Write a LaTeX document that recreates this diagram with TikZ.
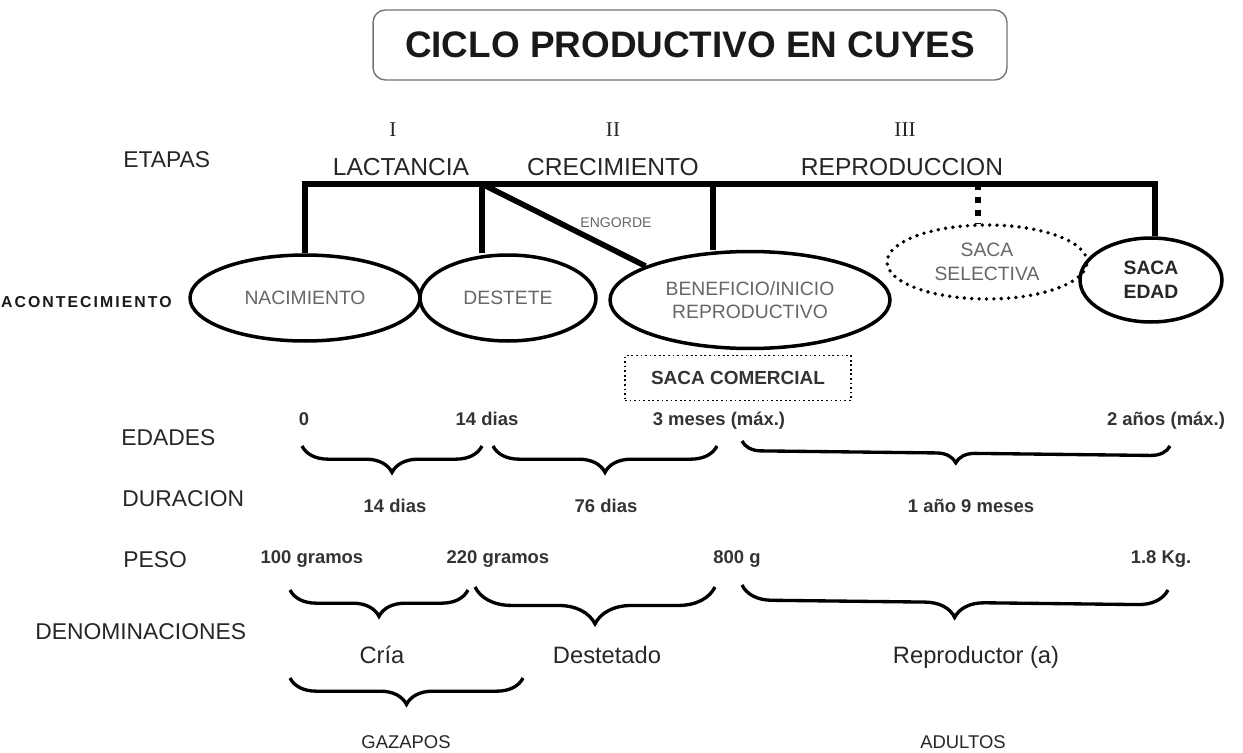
\documentclass[tikz,border=0pt]{standalone}
\usepackage{fontspec}
\setmainfont{Liberation Sans}
\newfontfamily\numfont{Liberation Serif}
\usetikzlibrary{positioning}
\usetikzlibrary{shapes.geometric}
\usetikzlibrary{decorations.pathreplacing}

\begin{document}
\begin{tikzpicture}
[
x=0.02cm, y=-0.02cm,
rowname/.style={anchor=west, inner sep=0pt, text=black!85, font=\fontsize{13}{15}\selectfont},
stage/.style={text=black!85, font=\fontsize{14}{16}\selectfont},
numeral/.style={text=black!85, font=\fontsize{12}{14}\selectfont\numfont},
event/.style={ellipse, draw, line width=2pt, inner sep=0pt, align=center, text=black!60, font=\fontsize{11}{13.5}\selectfont},
amount/.style={text height=8pt, text depth=2.3pt, text=black!80, font=\fontsize{10.5}{12}\selectfont\bfseries},
denom/.style={text height=10pt, text depth=3pt, text=black!85, font=\fontsize{13.5}{16}\selectfont},
bigname/.style={text=black!85, font=\fontsize{10.5}{12}\selectfont},
bar/.style={line width=3.2pt},
curly/.style={decorate, decoration={brace, mirror, amplitude=#1}, line width=1.9pt},
]

\useasboundingbox (0,0) rectangle (1243,753);

\node (title) [draw=black!55, line width=0.8pt, rounded corners=7pt, minimum width=12.68cm, minimum height=1.4cm, text=black!90, font=\fontsize{21}{24}\selectfont\bfseries] at (690,45) {CICLO PRODUCTIVO EN CUYES};

\node (etapas) [rowname] at (123,160) {ETAPAS};
\node (acontecimiento) [anchor=east, inner sep=0pt, text=black!90, font=\fontsize{9}{10}\selectfont\bfseries\addfontfeature{LetterSpace=13}] at (172,302) {ACONTECIMIENTO};
\node (edades) [rowname] at (121,438) {EDADES};
\node (duracion) [rowname] at (122,499) {DURACION};
\node (peso) [rowname] at (123,560) {PESO};
\node (denominaciones) [rowname] at (35,632) {DENOMINACIONES};

\foreach \n/\x/\t in {1/393/I, 2/613/II, 3/905/III}
\node (num-\n) [numeral] at (\x,130) {\t};
\foreach \n/\x/\t in {1/401/LACTANCIA, 2/613/CRECIMIENTO, 3/902/REPRODUCCION}
\node (stage-\n) [stage] at (\x,167) {\t};

\node (nac) [event, minimum width=4.6cm, minimum height=1.72cm] at (305,298) {NACIMIENTO};
\node (des) [event, minimum width=3.52cm, minimum height=1.72cm] at (508,298) {DESTETE};
\node (ben) [event, minimum width=5.6cm, minimum height=1.94cm] at (750,300) {BENEFICIO/INICIO\\REPRODUCTIVO};
\node (sel) [event, line width=2.2pt, line cap=round, dash pattern=on 0pt off 4.2pt, minimum width=4cm, minimum height=1.48cm] at (987,262) {SACA\\SELECTIVA};
\node (sacaedad) [event, minimum width=2.84cm, minimum height=1.68cm, text=black!85, font=\fontsize{11}{13.5}\selectfont\bfseries] at (1151,280) {SACA\\EDAD};

\coordinate (split) at (482,184);
\coordinate (benleg) at (713,184);
\coordinate (selleg) at (978,184);
\coordinate (barR) at (1155,184);
\draw [bar] (nac.north) |- (barR) -- (barR |- sacaedad.north);
\draw [bar] (split) -- (split |- des.north);
\draw [bar] (split) -- (ben.162);
\draw [bar] (benleg) -- (benleg |- ben.north);
\draw [bar, dash pattern=on 3.5pt off 3.9pt] (selleg) -- (selleg |- sel.north);

\node (engorde) [text=black!60, font=\fontsize{8}{9}\selectfont] at (616,223) {ENGORDE};
\node (comercial) [draw, line width=1pt, dash pattern=on 1pt off 1.6pt, minimum width=4.52cm, minimum height=0.9cm, text=black!80, font=\fontsize{10.8}{12}\selectfont\bfseries] at (738,378) {SACA COMERCIAL};

\foreach \n/\x/\t in {1/304/0, 2/487/14 dias, 3/719/3 meses (máx.), 4/1166/2 años (máx.)}
\node (age-\n) [amount] at (\x,420) {\t};
\foreach \n/\x/\t in {1/395/14 dias, 2/606/76 dias, 3/971/1 año 9 meses}
\node (dur-\n) [amount] at (\x,507) {\t};
\foreach \n/\x/\t in {1/312/100 gramos, 2/498/220 gramos, 3/737/800 g, 4/1161/1.8 Kg.}
\node (weight-\n) [amount] at (\x,558) {\t};
\foreach \n/\x/\t in {1/382/Cría, 2/607/Destetado, 3/976/Reproductor (a)}
\node (denom-\n) [denom] at (\x,657) {\t};
\node (gazapos) [bigname] at (406,742) {GAZAPOS};
\node (adultos) [bigname] at (963,742) {ADULTOS};

\foreach \n/\a/\ya/\b/\yb/\amp in {1/302/446/482/446/15pt, 2/493/446/717/446/15pt, 3/742/441/1170/446/11pt, 4/290/590/468/590/15pt, 5/475/587/715/587/21pt, 6/742/585/1168/590/17pt, 7/290/678/523/678/15pt}
{
\coordinate (brace-\n-a) at (\a,\ya);
\coordinate (brace-\n-b) at (\b,\yb);
\draw [curly=\amp] (brace-\n-a) -- (brace-\n-b);
}
\end{tikzpicture}
\end{document}
